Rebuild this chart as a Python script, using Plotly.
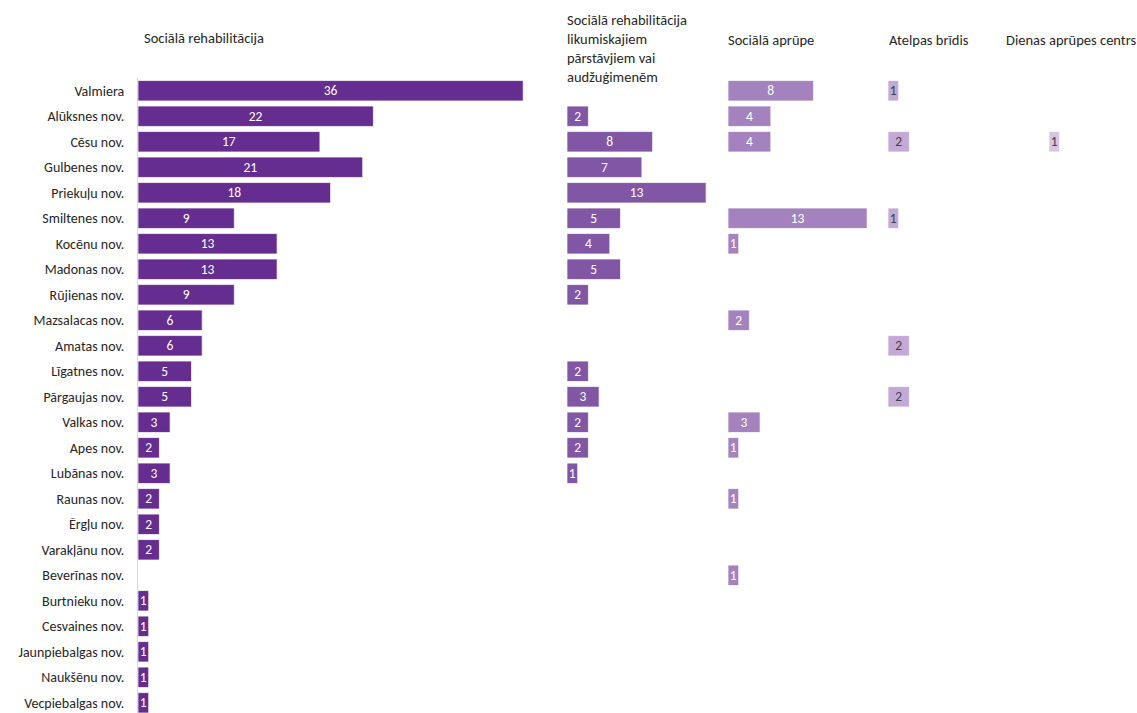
import plotly.graph_objects as go

categories = ["Valmiera", "Alūksnes nov.", "Cēsu nov.", "Gulbenes nov.", "Priekuļu nov.",
              "Smiltenes nov.", "Kocēnu nov.", "Madonas nov.", "Rūjienas nov.", "Mazsalacas nov.",
              "Amatas nov.", "Līgatnes nov.", "Pārgaujas nov.", "Valkas nov.", "Apes nov.",
              "Lubānas nov.", "Raunas nov.", "Ērgļu nov.", "Varakļānu nov.", "Beverīnas nov.",
              "Burtnieku nov.", "Cesvaines nov.", "Jaunpiebalgas nov.", "Naukšēnu nov.", "Vecpiebalgas nov."]

N = None
soc_rehab = [36, 22, 17, 21, 18, 9, 13, 13, 9, 6, 6, 5, 5, 3, 2, 3, 2, 2, 2, N, 1, 1, 1, 1, 1]
soc_rehab_likum = [N, 2, 8, 7, 13, 5, 4, 5, 2, N, N, 2, 3, 2, 2, 1, N, N, N, N, N, N, N, N, N]
soc_aprupe = [8, 4, 4, N, N, 13, 1, N, N, 2, N, N, N, 3, 1, N, 1, N, N, 1, N, N, N, N, N]
atelpas = [1, N, 2, N, N, 1, N, N, N, N, 2, N, 2, N, N, N, N, N, N, N, N, N, N, N, N]
dienas = [N, N, 1, N, N, N, N, N, N, N, N, N, N, N, N, N, N, N, N, N, N, N, N, N, N]

series_names = ["Sociālā rehabilitācija",
                "Sociālā rehabilitācija<br>likumiskajiem<br>pārstāvjiem vai<br>audžuģimenēm",
                "Sociālā aprūpe", "Atelpas brīdis", "Dienas aprūpes centrs"]
series_values = [soc_rehab, soc_rehab_likum, soc_aprupe, atelpas, dienas]
colors = ["#652D8F", "#8156A4", "#A482BE", "#C3AAD6", "#D6C6E3"]
text_colors = ["white", "white", "white", "#404040", "#404040"]

FONT = "Carlito, Lato, 'Liberation Sans', sans-serif"
W, H = 1137, 713
ML, MT = 138, 78
plot_w = W - ML
plot_h = H - MT
px_per_unit = 10.7
starts = [138, 567, 728, 888, 1049, 1137]

fig = go.Figure()
for i, (name, vals) in enumerate(zip(series_names, series_values)):
    ax = "" if i == 0 else str(i + 1)
    fig.add_trace(go.Bar(
        y=categories, x=vals, orientation="h",
        marker=dict(color=colors[i], line=dict(color="rgba(255,255,255,0.7)", width=1)),
        text=[("" if v is None else str(v)) for v in vals],
        textposition="inside", insidetextanchor="middle", constraintext="none",
        textangle=0,
        textfont=dict(family=FONT, size=13.5, color=text_colors[i]),
        xaxis="x" + ax, yaxis="y", showlegend=False, hoverinfo="x+y",
    ))
    d0 = (starts[i] - ML) / plot_w
    d1 = (starts[i + 1] - ML) / plot_w
    width_units = (starts[i + 1] - starts[i]) / px_per_unit
    fig.layout["xaxis" + ax] = dict(domain=[d0, d1], range=[0, width_units],
                                    showgrid=False, zeroline=False, showticklabels=False,
                                    showline=False, fixedrange=True)

title_pos = [(142, 38, "left"), (565, 48, "left"), (726, 40, "left"), (887, 40, "left"),
             (1138, 40, "right")]
for (tx, ty, anc), name in zip(title_pos, series_names):
    fig.add_annotation(text=name, xref="paper", yref="paper",
                       x=(tx - ML) / plot_w, y=(H - ty) / plot_h,
                       xanchor=anc, yanchor="middle", align="left", showarrow=False,
                       font=dict(family=FONT, size=14.5, color="#262626"))

fig.update_layout(
    width=W, height=H,
    margin=dict(l=ML, r=0, t=MT, b=0),
    paper_bgcolor="white", plot_bgcolor="white",
    bargap=0.2,
    yaxis=dict(type="category", range=[24.4, -0.5], showgrid=False, zeroline=False,
               showline=True, linecolor="#d9d9d9", linewidth=1, ticks="",
               ticklabelstandoff=10, fixedrange=True,
               tickfont=dict(family=FONT, size=14, color="#262626")),
    font=dict(family=FONT),
)

fig.write_html("out.html", config={"displayModeBar": False},
               post_script="document.body.style.margin='0';")
